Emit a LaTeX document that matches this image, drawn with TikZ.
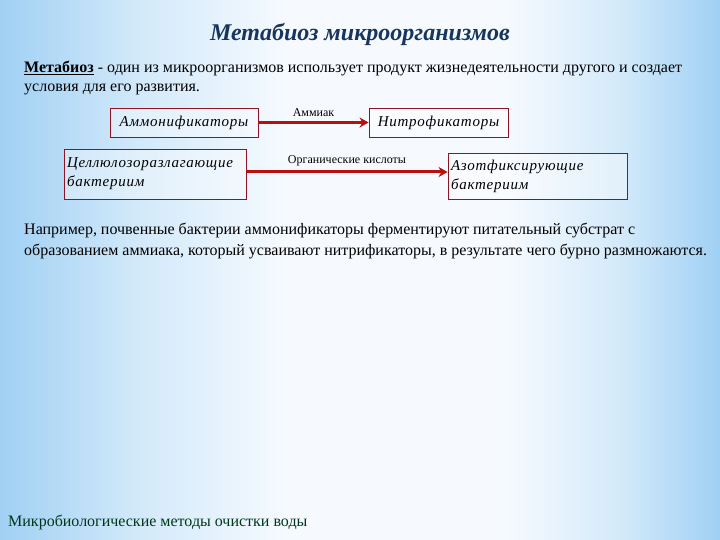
\documentclass[tikz,border=0pt]{standalone}
\usepackage{fontspec}
\setmainfont{Liberation Serif}
\newfontfamily\boxfont[LetterSpace=5]{Liberation Serif}
\usetikzlibrary{positioning, arrows.meta}
\definecolor{bgblue}{RGB}{160,208,244}
\definecolor{bgmid}{RGB}{212,234,250}
\definecolor{bgwhite}{RGB}{246,250,255}
\definecolor{titleblue}{RGB}{23,54,93}
\definecolor{boxred}{RGB}{140,20,35}
\definecolor{arrred}{RGB}{185,15,15}
\definecolor{footgreen}{RGB}{0,55,25}
\pgfdeclarehorizontalshading{sky}{100bp}{color(0bp)=(bgblue); color(25bp)=(bgblue); color(35bp)=(bgmid); color(45bp)=(bgwhite); color(60bp)=(bgwhite); color(68bp)=(bgmid); color(75bp)=(bgblue); color(100bp)=(bgblue)}

\begin{document}
\begin{tikzpicture}[
		x=1pt, y=-1pt,
		>={Stealth[length=9pt, width=10pt]},
		bbox/.style={draw=boxred, line width=0.9pt, fill=white, fill opacity=0.35, text opacity=1, inner sep=3pt, font=\boxfont\itshape\fontsize{15}{19}\selectfont},
		arr/.style={->, draw=arrred, line width=3pt},
		lbl/.style={font=\fontsize{12}{14}\selectfont, above=1pt},
		txt/.style={anchor=base west, inner sep=0pt, font=\fontsize{16}{19}\selectfont},
	]

	% background
	\useasboundingbox (0,0) rectangle (720,540);
	\shade[shading=sky] (0,0) rectangle (720,540);

	\node[font=\fontsize{24}{28}\selectfont\bfseries\itshape, text=titleblue] (title) at (360,34) {Метабиоз микроорганизмов};

	\node[txt] (def1) at (24,73) {\underline{\textbf{Метабиоз}} - один из микроорганизмов использует продукт жизнедеятельности другого и создает};
	\node[txt] (def2) at (24,92) {условия для его развития.};

	\node[bbox, minimum width=148pt, minimum height=29pt] (ammon) at (184,122.5) {Аммонификаторы};
	\node[bbox, minimum width=139pt, minimum height=29pt] (nitro) at (438.5,122.5) {Нитрофикаторы};
	\node[bbox, text width=176pt, minimum height=50pt, align=left] (cell) at (155,174) {Целлюлозоразлагающие\\бактериим};
	\node[bbox, text width=173pt, minimum height=46pt, align=left] (azot) at (537.5,176) {Азотфиксирующие\\бактериим};

	\draw[arr] (ammon) to node[lbl] {Аммиак} (nitro);
	\draw[arr] (cell.east |- 0,172) to node[lbl] (acids) {Органические кислоты} (azot.west |- 0,172);

	\node[txt] (ex1) at (24,235) {Например, почвенные бактерии аммонификаторы ферментируют питательный субстрат с};
	\node[txt] (ex2) at (24,255) {образованием аммиака, который усваивают нитрификаторы, в результате чего бурно размножаются.};

	\node[txt, text=footgreen] (foot) at (8,526) {Микробиологические методы очистки воды};
\end{tikzpicture}
\end{document}
